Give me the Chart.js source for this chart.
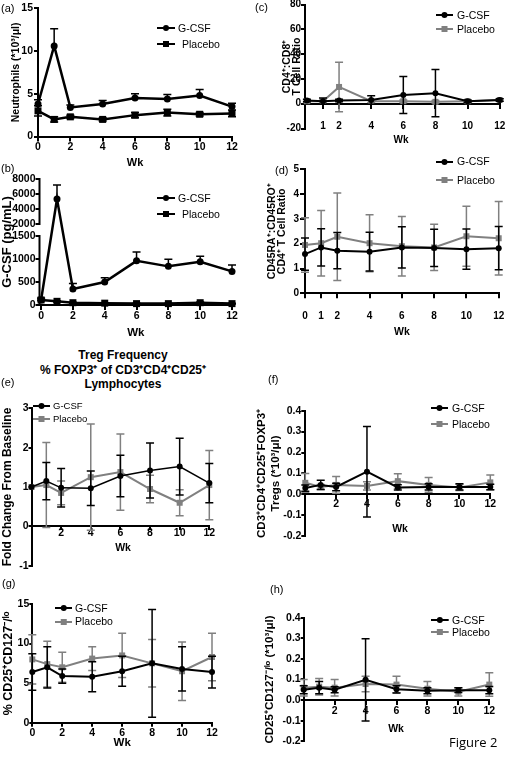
<!DOCTYPE html>
<html lang="en">
<head>
<meta charset="UTF-8">
<title>Figure 2</title>
<script src="https://cdn.jsdelivr.net/npm/chart.js"></script>
<style>
  body { margin: 0; background: #fff; font-family: Arial, "Liberation Sans", sans-serif; color: #000; }
  #fig { position: relative; width: 506px; height: 757px; overflow: hidden; }
  #fig canvas { position: absolute; }
  .txt { position: absolute; white-space: nowrap; }
  .key { position: absolute; }
</style>
</head>
<body>
<div id="fig"></div>
<script>
const weeks = [0, 1, 2, 4, 6, 8, 10, 12];
const evenWeeks = [0, 2, 4, 6, 8, 10, 12];
const evenWeeksNo0 = [2, 4, 6, 8, 10, 12];
const allWeeks = [0, 1, 2, 4, 6, 8, 10, 12];
const cd4cd8Weeks = [1, 2, 4, 6, 8, 10, 12];

// (a) neutrophils (*10^3/ul)
const neutGcsf       = [3.8, 10.6, 3.4, 3.8, 4.5, 4.4, 4.8, 3.5];
const neutGcsfErr    = [0.5, 2.0, 0.3, 0.4, 0.5, 0.5, 0.7, 0.4];
const neutPlacebo    = [3.0, 2.0, 2.3, 2.0, 2.5, 2.8, 2.6, 2.7];
const neutPlaceboErr = [0.6, 0.3, 0.2, 0.2, 0.3, 0.4, 0.2, 0.4];
const neutTicks = [0, 5, 10, 15];

// (b) serum G-CSF (pg/mL), axis broken between 1500 and 2000
const gcsfGcsf       = [110, 5330, 350, 500, 960, 840, 940, 730];
const gcsfGcsfErr    = [40, 1870, 115, 90, 190, 155, 120, 140];
const gcsfPlacebo    = [110, 80, 50, 40, 30, 30, 50, 30];
const gcsfPlaceboErr = [20, 15, 10, 10, 10, 10, 15, 10];
const gcsfTicks = [0, 500, 1000, 1500, 2000, 4000, 6000, 8000];

// (c) CD4:CD8 ratio
const cd4cd8Gcsf       = [2.5, 2.0, 2.5, 3.0, 7.0, 8.5, 2.0, 3.0];
const cd4cd8GcsfErr    = [1.0, 2.5, 1.0, 3.5, 15.0, 19.0, 1.0, 1.0];
const cd4cd8Placebo    = [2.0, 2.0, 13.5, 2.0, 2.0, 1.5, 2.0, 3.0];
const cd4cd8PlaceboErr = [1.0, 1.0, 20.0, 1.0, 1.0, 1.0, 1.0, 1.0];
const cd4cd8Ticks = [-20, 0, 20, 40, 60, 80];

// (d) CD45RA:CD45RO ratio of CD4 T cells
const naiveGcsf       = [1.58, 1.85, 1.72, 1.68, 1.85, 1.83, 1.78, 1.82];
const naiveGcsfErr    = [0.65, 0.75, 0.73, 0.78, 0.83, 0.75, 0.81, 0.87];
const naivePlacebo    = [1.95, 2.02, 2.28, 2.02, 1.90, 1.85, 2.30, 2.22];
const naivePlaceboErr = [1.10, 1.32, 1.76, 1.15, 1.20, 0.93, 1.21, 1.48];
const naiveTicks = [0, 1, 2, 3, 4, 5];

// (e) Treg frequency, fold change from baseline
const foldGcsf       = [1.0, 1.15, 0.98, 0.97, 1.28, 1.42, 1.52, 1.10];
const foldGcsfErr    = [0, 0.47, 0.49, 0.44, 0.53, 0.70, 0.72, 0.50];
const foldPlacebo    = [1.0, 1.05, 0.85, 1.25, 1.38, 0.95, 0.60, 1.05];
const foldPlaceboErr = [0, 1.08, 0.30, 1.35, 0.97, 0.35, 0.33, 0.88];
const foldTicks = [-1, 0, 1, 2, 3];

// (f) CD3+CD4+CD25+FOXP3+ Tregs (*10^3/ul)
const tregGcsf       = [0.030, 0.045, 0.035, 0.108, 0.033, 0.035, 0.035, 0.035];
const tregGcsfErr    = [0.015, 0.022, 0.018, 0.217, 0.013, 0.015, 0.015, 0.013];
const tregPlacebo    = [0.055, 0.035, 0.045, 0.040, 0.063, 0.045, 0.033, 0.057];
const tregPlaceboErr = [0.045, 0.012, 0.040, 0.020, 0.035, 0.035, 0.015, 0.035];
const tregTicks = [-0.2, -0.1, 0, 0.1, 0.2, 0.3, 0.4];

// (g) % CD25+CD127-/lo
const pctGcsf       = [6.4, 7.0, 5.9, 5.8, 6.5, 7.5, 6.8, 6.4];
const pctGcsfErr    = [2.3, 2.6, 0.9, 1.9, 1.9, 6.8, 2.8, 2.0];
const pctPlacebo    = [8.0, 7.4, 7.0, 8.1, 8.5, 7.5, 6.5, 8.3];
const pctPlaceboErr = [3.1, 2.9, 1.9, 1.5, 2.8, 3.0, 3.7, 3.0];
const pctTicks = [0, 5, 10, 15];

// (h) CD25+CD127-/lo (*10^3/ul)
const lowGcsf       = [0.050, 0.060, 0.050, 0.098, 0.052, 0.045, 0.048, 0.048];
const lowGcsfErr    = [0.020, 0.030, 0.015, 0.200, 0.018, 0.015, 0.012, 0.018];
const lowPlacebo    = [0.060, 0.065, 0.060, 0.078, 0.075, 0.055, 0.040, 0.075];
const lowPlaceboErr = [0.040, 0.040, 0.040, 0.038, 0.040, 0.035, 0.020, 0.057];
const lowTicks = [-0.2, -0.1, 0, 0.1, 0.2, 0.3, 0.4];

const FONT = 'Arial, "Liberation Sans", sans-serif';
const BLACK = '#000';
const GREY = '#808080';
const fig = document.getElementById('fig');

// lower part 0-1500 linear, short gap, upper part 2000-8000 squeezed
function gcsfToAxis(v) {
  return v <= 1500 ? v : 1761 + (v - 2000) * 0.163;
}

// error bars drawn under each dataset's line and markers
const errorBars = {
  id: 'errorBars',
  beforeDatasetDraw(chart, args) {
    const ds = chart.data.datasets[args.index];
    if (!ds.hi) return;
    const xs = chart.scales.x, ys = chart.scales.y, ctx = chart.ctx;
    ctx.save();
    ctx.strokeStyle = ds.borderColor;
    ctx.lineWidth = 1.5;
    ds.data.forEach((pt, i) => {
      if (ds.hi[i] === ds.lo[i]) return;
      const px = xs.getPixelForValue(pt.x);
      const top = ys.getPixelForValue(ds.hi[i]);
      const bot = ys.getPixelForValue(ds.lo[i]);
      const cap = ds.cap;
      ctx.beginPath();
      ctx.moveTo(px, top); ctx.lineTo(px, bot);
      ctx.moveTo(px - cap, top); ctx.lineTo(px + cap, top);
      if (ds.lo[i] !== pt.y) { ctx.moveTo(px - cap, bot); ctx.lineTo(px + cap, bot); }
      ctx.stroke();
    });
    ctx.restore();
  }
};

// broken y axis line for panel (b)
const axisBreak = {
  id: 'axisBreak',
  afterDraw(chart) {
    const ys = chart.scales.y, left = chart.chartArea.left, ctx = chart.ctx;
    ctx.save();
    ctx.strokeStyle = BLACK;
    ctx.lineWidth = 2;
    [[0, 1500], [2000, 8000]].forEach(([a, b]) => {
      ctx.beginPath();
      ctx.moveTo(left, ys.getPixelForValue(gcsfToAxis(a)) + 1);
      ctx.lineTo(left, ys.getPixelForValue(gcsfToAxis(b)) - 1);
      ctx.stroke();
    });
    ctx.restore();
  }
};

function series(label, vals, errs, color, shape, opt) {
  const map = opt.map || (v => v);
  return {
    label: label,
    data: weeks.map((w, i) => ({x: w, y: map(vals[i])})),
    hi: vals.map((v, i) => map(v + errs[i])),
    lo: vals.map((v, i) => map(opt.upOnly ? v : v - errs[i])),
    cap: opt.cap || 4,
    borderColor: color,
    backgroundColor: color,
    borderWidth: opt.lw || 2,
    pointStyle: shape,
    pointRadius: shape === 'rect' ? (opt.sq || 3) / Math.SQRT1_2 : (opt.r || 3),
    pointBorderWidth: 0,
    tension: 0,
    fill: false,
    clip: false
  };
}

function makePanel(p) {
  const [bx, by, bw, bh] = p.box;
  const [al, at, ar, ab] = p.area;
  const cv = document.createElement('canvas');
  cv.width = bw; cv.height = bh;
  cv.style.left = bx + 'px'; cv.style.top = by + 'px';
  cv.style.width = bw + 'px'; cv.style.height = bh + 'px';
  fig.appendChild(cv);

  const tickSize = p.tickSize || 10;
  const yTickSize = p.yTickSize || tickSize;
  const y0 = at + (p.yMax / (p.yMax - p.yMin)) * (ab - at);
  const xBase = p.xAtZero ? y0 : ab;
  const xPad = p.xLabelY - xBase - p.xTl - 0.6 * tickSize;
  const lh = p.yTitleLh || 1;

  new Chart(cv, {
    type: 'line',
    data: { datasets: p.datasets },
    options: {
      responsive: false,
      animation: false,
      layout: { padding: { left: 0, top: at - by, right: bx + bw - ar, bottom: p.xAtZero ? by + bh - ab : 0 } },
      plugins: { legend: { display: false }, tooltip: { enabled: false } },
      scales: {
        x: {
          type: 'linear', min: p.xMin || 0, max: 12,
          position: p.xAtZero ? { y: 0 } : 'bottom',
          afterBuildTicks: s => { s.ticks = p.xTicks.map(v => ({ value: v })); },
          afterFit: s => { s.paddingLeft = 0; s.paddingRight = 0; if (!p.xAtZero) s.height = by + bh - ab; },
          grid: { drawOnChartArea: false, tickLength: p.xTl, color: BLACK, lineWidth: 2 },
          border: { color: BLACK, width: 2 },
          ticks: { color: BLACK, font: { family: FONT, size: tickSize, weight: 'bold' }, padding: xPad,
                   maxRotation: 0, autoSkip: false, callback: v => String(v) },
          title: p.xAtZero ? { display: false } : {
            display: true, text: 'Wk', color: BLACK,
            font: { family: FONT, size: p.wkSize, weight: 'bold', lineHeight: 1 },
            padding: { top: 0, bottom: by + bh - p.wkY - p.wkSize / 2 }
          }
        },
        y: {
          type: 'linear', min: p.yMin, max: p.yMax,
          afterBuildTicks: s => { s.ticks = p.yTicks.map(v => ({ value: p.yMap ? p.yMap(v) : v })); },
          afterFit: s => { s.width = al - bx; s.paddingTop = 0; s.paddingBottom = 0; },
          grid: { drawOnChartArea: false, tickLength: p.yTl, color: BLACK, lineWidth: 2 },
          border: { display: !p.yMap, color: BLACK, width: 2 },
          ticks: { color: BLACK, font: { family: FONT, size: yTickSize, weight: 'bold' }, padding: p.yPad,
                   autoSkip: false, callback: (v, i) => p.yLabel(p.yTicks[i]) },
          title: {
            display: true, text: p.yTitle, color: BLACK,
            font: { family: FONT, size: p.yTitleSize, weight: 'bold', lineHeight: lh },
            padding: { top: p.yTitleX - bx - p.yTitleSize * lh / 2, bottom: 0 }
          }
        }
      }
    },
    plugins: [errorBars].concat(p.plugins || [])
  });
}

function addText(text, x, cy, size, opt) {
  opt = opt || {};
  const d = document.createElement('div');
  d.className = 'txt';
  d.textContent = text;
  d.style.fontSize = size + 'px';
  d.style.lineHeight = (size + 2) + 'px';
  d.style.left = x + 'px';
  d.style.top = (cy - (size + 2) / 2) + 'px';
  if (opt.bold) d.style.fontWeight = 'bold';
  if (opt.center) d.style.transform = 'translateX(-50%)';
  if (opt.family) d.style.fontFamily = opt.family;
  fig.appendChild(d);
}

function addKey(x1, x2, cy, textX, label, color, shape, size) {
  const w = x2 - x1;
  const s = document.createElementNS('http://www.w3.org/2000/svg', 'svg');
  s.setAttribute('class', 'key');
  s.setAttribute('width', w); s.setAttribute('height', 10);
  s.style.left = x1 + 'px'; s.style.top = (cy - 5) + 'px';
  const mark = shape === 'circle'
    ? `<circle cx="${w / 2}" cy="5" r="3" fill="${color}"/>`
    : `<rect x="${w / 2 - 3}" y="2" width="6" height="6" fill="${color}"/>`;
  s.innerHTML = `<line x1="0" y1="5" x2="${w}" y2="5" stroke="${color}" stroke-width="2"/>` + mark;
  fig.appendChild(s);
  addText(label, textX, cy, size || 10);
}

const int = v => String(v);
const dec1 = v => v.toFixed(1);

// (a)
makePanel({
  box: [0, 0, 250, 172], area: [38, 8.3, 232, 136.5],
  xTicks: evenWeeks, xTl: 5, xLabelY: 147, wkY: 163, wkSize: 11, tickSize: 10.5,
  yMin: 0, yMax: 15, yTicks: neutTicks, yLabel: int, yTl: 4, yPad: 1,
  yTitle: 'Neutrophils (*10³/μl)', yTitleX: 16, yTitleSize: 10.5,
  datasets: [
    series('G-CSF', neutGcsf, neutGcsfErr, BLACK, 'circle', { upOnly: true, lw: 2.5, r: 3.5 }),
    series('Placebo', neutPlacebo, neutPlaceboErr, BLACK, 'rect', { lw: 2.5, sq: 3.5 })
  ]
});

// (b)
makePanel({
  box: [0, 172, 250, 168], area: [39.5, 179, 232, 305], xMin: -0.1,
  xTicks: evenWeeks, xTl: 5, xLabelY: 315.7, wkY: 333, wkSize: 11.5, tickSize: 10.5,
  yMin: 0, yMax: gcsfToAxis(8000), yTicks: gcsfTicks, yMap: gcsfToAxis, yLabel: int, yTl: 4, yPad: 0,
  yTitle: 'G-CSF (pg/mL)', yTitleX: 7.5, yTitleSize: 13,
  plugins: [axisBreak],
  datasets: [
    series('G-CSF', gcsfGcsf, gcsfGcsfErr, BLACK, 'circle', { upOnly: true, lw: 2.5, r: 3.5, map: gcsfToAxis }),
    series('Placebo', gcsfPlacebo, gcsfPlaceboErr, BLACK, 'rect', { lw: 2.5, sq: 3.5, map: gcsfToAxis })
  ]
});

// (c)
makePanel({
  box: [253, 0, 253, 140], area: [305, 4.5, 499.7, 128.5], xMin: -0.12, xAtZero: true,
  xTicks: cd4cd8Weeks, xTl: 4, xLabelY: 126, tickSize: 10,
  yMin: -20, yMax: 80, yTicks: cd4cd8Ticks, yLabel: int, yTl: 4, yPad: 0,
  yTitle: ['CD4⁺:CD8⁺', 'T Cell Ratio'], yTitleX: 287, yTitleSize: 10.5,
  datasets: [
    series('G-CSF', cd4cd8Gcsf, cd4cd8GcsfErr, BLACK, 'circle', {}),
    series('Placebo', cd4cd8Placebo, cd4cd8PlaceboErr, GREY, 'rect', {})
  ]
});

// (d)
makePanel({
  box: [253, 150, 253, 190], area: [305, 169.3, 498.7, 293.3],
  xTicks: allWeeks, xTl: 5, xLabelY: 316, wkY: 332, wkSize: 10.5, tickSize: 10,
  yMin: 0, yMax: 5, yTicks: naiveTicks, yLabel: int, yTl: 5, yPad: 1,
  yTitle: ['CD45RA⁺:CD45RO⁺', 'CD4⁺ T Cell Ratio'], yTitleX: 272, yTitleSize: 10.5,
  datasets: [
    series('G-CSF', naiveGcsf, naiveGcsfErr, BLACK, 'circle', {}),
    series('Placebo', naivePlacebo, naivePlaceboErr, GREY, 'rect', {})
  ]
});

// (e)
makePanel({
  box: [0, 395, 250, 175], area: [31.5, 408.3, 209.3, 566.2], xAtZero: true,
  xTicks: evenWeeksNo0, xTl: 3, xLabelY: 533.5, tickSize: 10.5,
  yMin: -1, yMax: 3, yTicks: foldTicks, yLabel: int, yTl: 3, yPad: 0,
  yTitle: 'Fold Change From Baseline', yTitleX: 7.5, yTitleSize: 12,
  datasets: [
    series('G-CSF', foldGcsf, foldGcsfErr, BLACK, 'circle', { lw: 1.5 }),
    series('Placebo', foldPlacebo, foldPlaceboErr, GREY, 'rect', { lw: 2 })
  ]
});

// (f)
makePanel({
  box: [253, 400, 253, 145], area: [305.3, 410.7, 490.3, 536.1], xAtZero: true,
  xTicks: evenWeeksNo0, xTl: 4, xLabelY: 504, tickSize: 10.5, yTickSize: 10.5,
  yMin: -0.2, yMax: 0.4, yTicks: tregTicks, yLabel: dec1, yTl: 4, yPad: 0,
  yTitle: ['CD3⁺CD4⁺CD25⁺FOXP3⁺', 'Tregs (*10³/μl)'], yTitleX: 262, yTitleSize: 11.5, yTitleLh: 1.2,
  datasets: [
    series('G-CSF', tregGcsf, tregGcsfErr, BLACK, 'circle', {}),
    series('Placebo', tregPlacebo, tregPlaceboErr, GREY, 'rect', {})
  ]
});

// (g)
makePanel({
  box: [0, 590, 250, 167], area: [32.3, 604, 212, 722.7],
  xTicks: evenWeeks, xTl: 4, xLabelY: 732.7, wkY: 743, wkSize: 11.5, tickSize: 10.5,
  yMin: 0, yMax: 15, yTicks: pctTicks, yLabel: int, yTl: 3, yPad: 0,
  yTitle: '% CD25⁺CD127⁻/ˡᵒ', yTitleX: 8.5, yTitleSize: 12.5,
  datasets: [
    series('G-CSF', pctGcsf, pctGcsfErr, BLACK, 'circle', {}),
    series('Placebo', pctPlacebo, pctPlaceboErr, GREY, 'rect', {})
  ]
});

// (h)
makePanel({
  box: [253, 605, 253, 152], area: [303.7, 617.7, 489.3, 741.2], xAtZero: true,
  xTicks: evenWeeksNo0, xTl: 4, xLabelY: 711, tickSize: 10.5, yTickSize: 10.5,
  yMin: -0.2, yMax: 0.4, yTicks: lowTicks, yLabel: dec1, yTl: 3, yPad: 0,
  yTitle: 'CD25⁺CD127⁻/ˡᵒ (*10³/μl)', yTitleX: 270, yTitleSize: 11.5,
  datasets: [
    series('G-CSF', lowGcsf, lowGcsfErr, BLACK, 'circle', {}),
    series('Placebo', lowPlacebo, lowPlaceboErr, GREY, 'rect', {})
  ]
});

// x titles of the panels whose x axis sits at zero
addText('Wk', 401, 140, 10, { bold: true, center: true });
addText('Wk', 123, 547, 10.5, { bold: true, center: true });
addText('Wk', 400, 528, 10.5, { bold: true, center: true });
addText('Wk', 396, 728, 10.5, { bold: true, center: true });

// panel tags
addText('(a)', 1, 8, 11);
addText('(b)', 1, 168, 11);
addText('(c)', 255, 7, 11);
addText('(d)', 275, 170, 11);
addText('(e)', 1, 382, 11);
addText('(f)', 268, 379, 11);
addText('(g)', 2, 583, 11);
addText('(h)', 270, 589, 11);

// (e) title
addText('Treg Frequency', 123, 355, 12, { bold: true, center: true });
addText('% FOXP3⁺ of CD3⁺CD4⁺CD25⁺', 123, 370, 12, { bold: true, center: true });
addText('Lymphocytes', 123, 384, 12, { bold: true, center: true });

// legends
addKey(157, 175, 28, 178, 'G-CSF', BLACK, 'circle', 10.5);
addKey(157, 175, 44, 182, 'Placebo', BLACK, 'rect', 10.5);
addKey(157, 175, 198.3, 178, 'G-CSF', BLACK, 'circle', 10.5);
addKey(157, 175, 214, 182, 'Placebo', BLACK, 'rect', 10.5);
addKey(436, 453, 15, 457, 'G-CSF', BLACK, 'circle', 10.5);
addKey(436, 453, 29.3, 457, 'Placebo', GREY, 'rect', 10.5);
addKey(436, 453, 161.7, 457, 'G-CSF', BLACK, 'circle', 10.5);
addKey(436, 453, 180, 457, 'Placebo', GREY, 'rect', 10.5);
addKey(33, 50, 405.7, 53, 'G-CSF', BLACK, 'circle', 9.5);
addKey(33, 50, 419, 53, 'Placebo', GREY, 'rect', 9.5);
addKey(431, 448, 408.3, 452, 'G-CSF', BLACK, 'circle', 10.5);
addKey(431, 448, 424.3, 452, 'Placebo', GREY, 'rect', 10.5);
addKey(54.5, 72, 608.3, 75, 'G-CSF', BLACK, 'circle', 10.5);
addKey(54.5, 72, 621.7, 75, 'Placebo', GREY, 'rect', 10.5);
addKey(431, 448.7, 620.3, 452, 'G-CSF', BLACK, 'circle', 10.5);
addKey(431, 448.7, 632.3, 452, 'Placebo', GREY, 'rect', 10.5);

addText('Figure 2', 449, 742, 13, { family: '"Open Sans", sans-serif' });
</script>
</body>
</html>
